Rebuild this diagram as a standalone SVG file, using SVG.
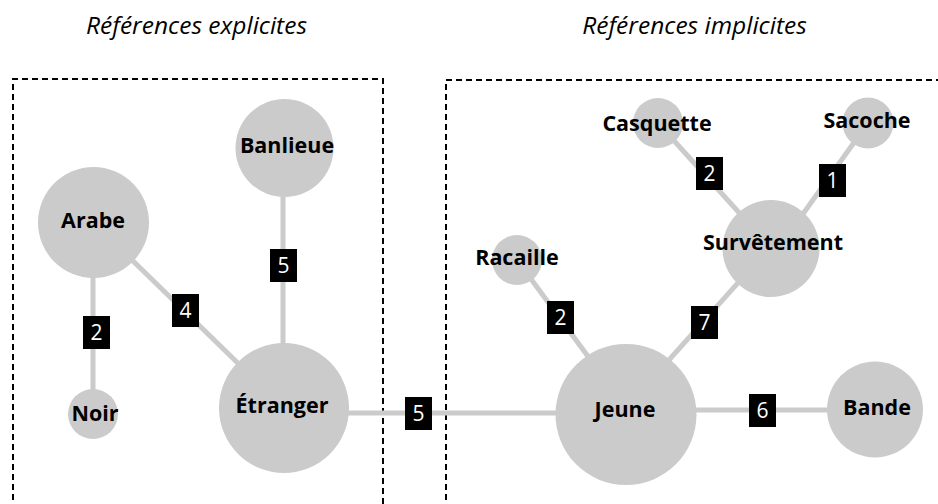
<svg xmlns="http://www.w3.org/2000/svg" width="938" height="504" viewBox="0 0 938 504">
  <style>
    .frame { fill: none; stroke: #000; stroke-width: 2; stroke-dasharray: 6 4; }
    .title { font-family: "Open Sans", "Noto Sans", sans-serif; font-style: italic; font-size: 24.5px; fill: #000; text-anchor: middle; }
    .edge { stroke: #cbcbcb; stroke-width: 5; fill: none; }
    .node { fill: #cbcbcb; }
    .label { font-family: "Open Sans", "Noto Sans", sans-serif; font-weight: bold; font-size: 21.5px; fill: #000; text-anchor: middle; }
    .wbox { fill: #000; }
    .wnum { font-family: "Open Sans", "Noto Sans", sans-serif; font-size: 21px; fill: #fff; text-anchor: middle; }
  </style>
  <rect width="938" height="504" fill="#fff"/>
  <g id="frames">
    <path class="frame" d="M13,530 V79 H383 V530"/>
    <path class="frame" d="M446,530 V80 H950"/>
    <text class="title" x="196.5" y="34">Références explicites</text>
    <text class="title" x="694.5" y="34">Références implicites</text>
  </g>
  <g id="connectors">
    <line class="edge" x1="93" y1="222" x2="93" y2="414"/>
    <line class="edge" x1="93.5" y1="222.5" x2="284" y2="408"/>
    <line class="edge" x1="283" y1="148" x2="283" y2="408"/>
    <line class="edge" x1="300" y1="413" x2="600" y2="413"/>
    <line class="edge" x1="626" y1="410" x2="875" y2="410"/>
    <line class="edge" x1="517" y1="260" x2="626" y2="408"/>
    <line class="edge" x1="771" y1="246" x2="626" y2="408"/>
    <line class="edge" x1="658" y1="123" x2="771" y2="248"/>
    <line class="edge" x1="868" y1="123" x2="780" y2="246"/>
    <g id="w-arabe-noir"><rect class="wbox" x="83" y="316" width="27" height="33"/><text class="wnum" x="96.5" y="340">2</text></g>
    <g id="w-arabe-etranger"><rect class="wbox" x="172" y="294" width="27" height="33"/><text class="wnum" x="185.5" y="318">4</text></g>
    <g id="w-banlieue-etranger"><rect class="wbox" x="270" y="249" width="27" height="33"/><text class="wnum" x="283.5" y="273">5</text></g>
    <g id="w-etranger-jeune"><rect class="wbox" x="405" y="397" width="27" height="33"/><text class="wnum" x="418.5" y="421">5</text></g>
    <g id="w-racaille-jeune"><rect class="wbox" x="547" y="301" width="27" height="33"/><text class="wnum" x="560.5" y="325">2</text></g>
    <g id="w-survetement-jeune"><rect class="wbox" x="691" y="306" width="27" height="33"/><text class="wnum" x="704.5" y="330">7</text></g>
    <g id="w-jeune-bande"><rect class="wbox" x="749" y="394" width="27" height="33"/><text class="wnum" x="762.5" y="418">6</text></g>
    <g id="w-casquette-survetement"><rect class="wbox" x="696" y="157" width="27" height="33"/><text class="wnum" x="709.5" y="181">2</text></g>
    <g id="w-sacoche-survetement"><rect class="wbox" x="819" y="164" width="27" height="33"/><text class="wnum" x="832.5" y="188">1</text></g>
  </g>
  <g id="arabe"><circle class="node" cx="93.5" cy="222.5" r="55.5"/><text class="label" x="93" y="228">Arabe</text></g>
  <g id="banlieue"><circle class="node" cx="284.5" cy="148" r="49"/><text class="label" x="287" y="153">Banlieue</text></g>
  <g id="noir"><circle class="node" cx="93" cy="414" r="25"/><text class="label" x="95" y="421">Noir</text></g>
  <g id="etranger"><circle class="node" cx="284" cy="408" r="65"/><text class="label" x="282" y="413">Étranger</text></g>
  <g id="racaille"><circle class="node" cx="517" cy="260" r="25"/><text class="label" x="517" y="265">Racaille</text></g>
  <g id="casquette"><circle class="node" cx="658" cy="123" r="25"/><text class="label" x="657" y="131">Casquette</text></g>
  <g id="sacoche"><circle class="node" cx="868" cy="123" r="25.5"/><text class="label" x="867" y="128">Sacoche</text></g>
  <g id="survetement"><circle class="node" cx="771" cy="248.5" r="48.5"/><text class="label" x="773" y="250">Survêtement</text></g>
  <g id="jeune"><circle class="node" cx="626" cy="414.5" r="70.5"/><text class="label" x="625" y="417">Jeune</text></g>
  <g id="bande"><circle class="node" cx="875" cy="409.5" r="48"/><text class="label" x="877" y="415">Bande</text></g>
</svg>
